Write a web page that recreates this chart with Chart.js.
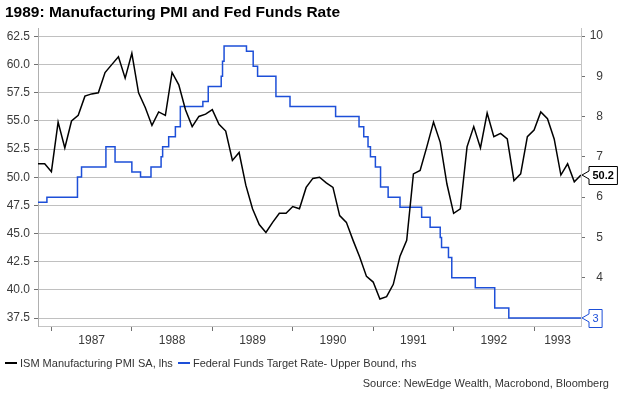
<!DOCTYPE html>
<html>
<head>
<meta charset="utf-8">
<script src="https://cdn.jsdelivr.net/npm/chart.js@4.4.1/dist/chart.umd.min.js"></script>
<style>
  html, body { margin: 0; padding: 0; background: #fff; }
  #wrap { position: relative; width: 623px; height: 395px; font-family: "Liberation Sans", Arial, sans-serif; }
  #chart { position: absolute; left: 0; top: 0; }
  #title { position: absolute; left: 5px; top: 3px; font-size: 15.5px; font-weight: bold; color: #000; white-space: nowrap; }
  #legend { position: absolute; left: 5px; top: 356px; font-size: 11px; line-height: 13px; color: #333; white-space: nowrap; }
  #legend span { display: inline-block; vertical-align: middle; }
  .key { width: 12px; height: 2px; margin: 0 3px 0 0; }
  #source { position: absolute; right: 14px; top: 377px; font-size: 11px; line-height: 13px; color: #333; white-space: nowrap; }
</style>
</head>
<body>
<div id="wrap">
  <canvas id="chart" width="623" height="395" style="width:623px;height:395px"></canvas>
  <div id="title">1989: Manufacturing PMI and Fed Funds Rate</div>
  <div id="legend">
    <span class="key" style="background:#000"></span><span>ISM Manufacturing PMI SA, lhs</span>
    <span class="key" style="background:#1d4fd8;margin-left:2px"></span><span>Federal Funds Target Rate- Upper Bound, rhs</span>
  </div>
  <div id="source">Source: NewEdge Wealth, Macrobond, Bloomberg</div>
</div>
<script>
// ISM PMI, monthly, starting Nov 1986
const pmiStart = '1986-11';
const pmiValues = [
    51.2, 51.2,
    50.5, 54.9, 52.6, 55.0, 55.5, 57.2, 57.4, 57.5, 59.3, 60.0, 60.7, 58.8,
    61.0, 57.5, 56.2, 54.6, 55.8, 55.5, 59.3, 58.2, 56.0, 54.5, 55.4, 55.6,
    56.0, 54.7, 54.1, 51.5, 52.2, 49.3, 47.2, 45.8, 45.1, 46.0, 46.8, 46.8,
    47.4, 47.2, 49.1, 49.9, 50.0, 49.5, 49.1, 46.6, 46.0, 44.4, 42.9, 41.2,
    40.7, 39.2, 39.4, 40.5, 43.0, 44.4, 50.3, 50.6, 52.7, 54.9, 53.1, 49.4,
    46.8, 47.2, 52.7, 54.5, 52.6, 55.7, 53.6, 53.9, 53.4, 49.7, 50.3, 53.6,
    54.2, 55.8, 55.2, 53.4, 50.2, 51.2, 49.6, 50.2
];

// fed funds target, upper bound: date of each change and the new rate
const fedDates = [
    '1986-11-01', '1986-12-11', '1987-04-28', '1987-05-16', '1987-09-05', '1987-10-16',
    '1988-01-01', '1988-02-10', '1988-03-27', '1988-05-12', '1988-05-19', '1988-06-16',
    '1988-07-16', '1988-08-08', '1988-11-19', '1988-12-13', '1989-02-11', '1989-02-17',
    '1989-02-24', '1989-06-04', '1989-07-04', '1989-07-24', '1989-10-16', '1989-12-19',
    '1990-07-13', '1990-10-28', '1990-11-19', '1990-12-08', '1990-12-19', '1991-01-11',
    '1991-02-04', '1991-03-08', '1991-05-01', '1991-08-08', '1991-09-16', '1991-11-01',
    '1991-11-07', '1991-12-08', '1991-12-23', '1992-04-08', '1992-07-05', '1992-09-08',
    '1993-08-01'
];
const fedRates = [
    5.875, 6.0, 6.5, 6.75, 7.25, 6.875,
    6.625, 6.5, 6.75, 7.0, 7.25, 7.5,
    7.75, 8.25, 8.375, 8.75, 9.0, 9.375,
    9.75, 9.625, 9.25, 9.0, 8.5, 8.25,
    8.0, 7.75, 7.5, 7.25, 7.0, 6.75,
    6.25, 6.0, 5.75, 5.5, 5.25, 5.0,
    4.75, 4.5, 4.0, 3.75, 3.25, 3.0,
    3.0
];

const leftTicks = [37.5, 40, 42.5, 45, 47.5, 50, 52.5, 55, 57.5, 60, 62.5];
const rightTicks = [4, 5, 6, 7, 8, 9, 10];
const years = [1987, 1988, 1989, 1990, 1991, 1992, 1993];

function toYear(s) {
    const [y, m, d] = s.split('-').map(Number);
    return y + (m - 1) / 12 + ((d || 1) - 1) / 365;
}

const xMin = toYear(pmiStart);
const xMax = toYear(fedDates[fedDates.length - 1]);

const pmiPoints = pmiValues.map((v, i) => ({ x: xMin + i / 12, y: v }));
const fedPoints = fedDates.map((d, i) => ({ x: toYear(d), y: fedRates[i] }));

// year tick marks at Jan 1, labels centred in the visible part of each year
const xTicks = [];
years.forEach(y => {
    xTicks.push({ value: y });
    xTicks.push({ value: (Math.max(y, xMin) + Math.min(y + 1, xMax)) / 2, lbl: String(y) });
});

const labelFont = { family: "'Liberation Sans', Arial, sans-serif", size: 12 };
const axisGrey = '#c4c4c4';

// boxed value at the end of each line
const endLabels = {
    id: 'endLabels',
    afterDatasetsDraw(chart) {
        const ctx = chart.ctx;
        chart.data.datasets.forEach((ds, i) => {
            const pts = chart.getDatasetMeta(i).data;
            const p = pts[pts.length - 1];
            ctx.save();
            ctx.font = ds.endFont;
            const w = ctx.measureText(ds.endText).width + 7;
            const h = 18;
            const bx = p.x + 8;
            const by = Math.round(p.y - h / 2) + 0.5;
            ctx.beginPath();
            ctx.moveTo(p.x + 1, p.y);
            ctx.lineTo(bx, p.y - 4);
            ctx.lineTo(bx, by);
            ctx.lineTo(bx + w, by);
            ctx.lineTo(bx + w, by + h);
            ctx.lineTo(bx, by + h);
            ctx.lineTo(bx, p.y + 4);
            ctx.closePath();
            ctx.fillStyle = '#fff';
            ctx.fill();
            ctx.strokeStyle = ds.borderColor;
            ctx.lineWidth = 1;
            ctx.stroke();
            ctx.fillStyle = ds.borderColor;
            ctx.textAlign = 'center';
            ctx.textBaseline = 'middle';
            ctx.fillText(ds.endText, bx + w / 2, by + h / 2 + 0.5);
            ctx.restore();
        });
    }
};

new Chart(document.getElementById('chart'), {
    type: 'line',
    data: {
        datasets: [
            {
                label: 'ISM Manufacturing PMI SA, lhs',
                data: pmiPoints,
                yAxisID: 'yL',
                borderColor: '#000000',
                borderWidth: 1.5,
                pointRadius: 0,
                tension: 0,
                endText: pmiValues[pmiValues.length - 1].toFixed(1),
                endFont: "bold 11px 'Liberation Sans', Arial, sans-serif"
            },
            {
                label: 'Federal Funds Target Rate- Upper Bound, rhs',
                data: fedPoints,
                yAxisID: 'yR',
                stepped: true,
                borderColor: '#1d4fd8',
                borderWidth: 1.5,
                pointRadius: 0,
                endText: String(fedRates[fedRates.length - 1]),
                endFont: "11px 'Liberation Sans', Arial, sans-serif"
            }
        ]
    },
    options: {
        responsive: false,
        animation: false,
        layout: { padding: { top: 28, left: 0, right: 20, bottom: 0 } },
        plugins: {
            legend: { display: false },
            tooltip: { enabled: false }
        },
        scales: {
            x: {
                type: 'linear',
                min: xMin,
                max: xMax,
                afterBuildTicks: s => { s.ticks = xTicks.map(t => ({ ...t })); },
                afterFit: s => { s.height = 69; },
                grid: {
                    drawOnChartArea: false,
                    tickLength: 5,
                    tickColor: c => (c.tick && c.tick.lbl) ? 'rgba(0,0,0,0)' : '#707070'
                },
                border: { color: axisGrey },
                ticks: {
                    autoSkip: false,
                    maxRotation: 0,
                    padding: 2,
                    color: '#3a3a3a',
                    font: labelFont,
                    callback: (v, i, t) => t[i].lbl || ''
                }
            },
            yL: {
                position: 'left',
                min: 36.8,
                max: 63.25,
                afterBuildTicks: s => { s.ticks = leftTicks.map(v => ({ value: v })); },
                afterFit: s => { s.width = 38; },
                grid: { color: '#c0c0c0', tickLength: 4, tickColor: '#707070' },
                border: { color: '#b0b0b0' },
                ticks: {
                    padding: 4,
                    color: '#3a3a3a',
                    font: labelFont,
                    callback: v => v.toFixed(1)
                }
            },
            yR: {
                position: 'right',
                min: 2.8,
                max: 10.2,
                afterBuildTicks: s => { s.ticks = rightTicks.map(v => ({ value: v })); },
                afterFit: s => { s.width = 22; },
                grid: { drawOnChartArea: false, tickLength: 4, tickColor: '#707070' },
                border: { color: axisGrey },
                ticks: {
                    padding: 4,
                    crossAlign: 'far',
                    color: '#3a3a3a',
                    font: labelFont
                }
            }
        }
    },
    plugins: [endLabels]
});
</script>
</body>
</html>
